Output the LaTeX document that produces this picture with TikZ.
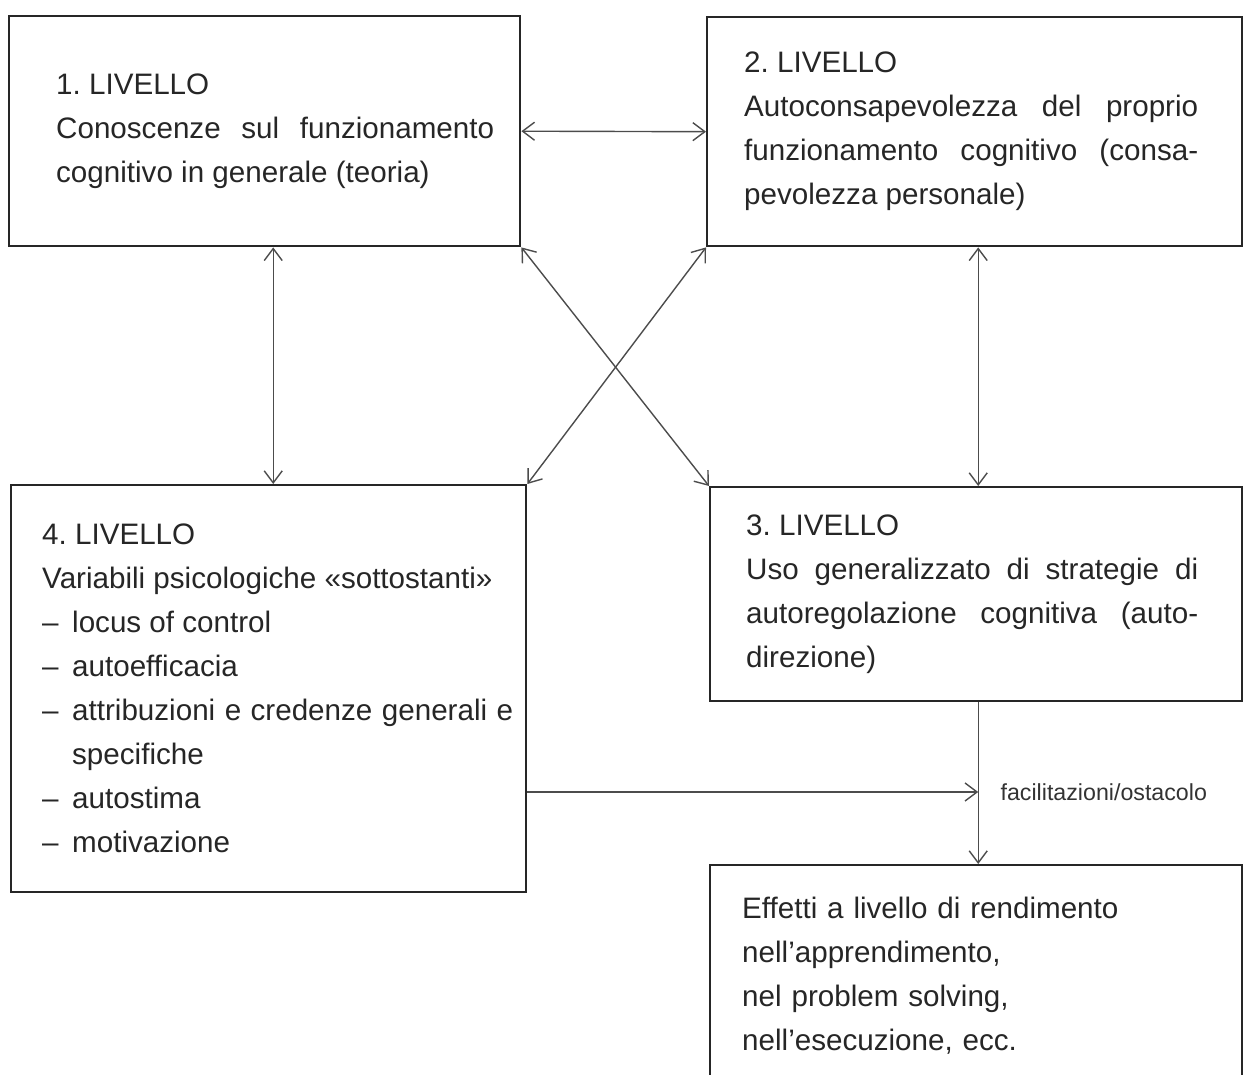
\documentclass[tikz,border=0pt]{standalone}
\usepackage{fontspec}
\setmainfont{Liberation Sans}
\usetikzlibrary{arrows.meta,positioning}
\frenchspacing
\newcommand{\voce}[1]{\par\hangindent=15pt\hangafter=1\noindent\makebox[15pt][l]{–}#1}
\tikzset{
  box/.style={draw=black!85, line width=1.2pt, anchor=north west, align=justify,
    inner sep=0pt, text=black!85, font=\fontsize{14.8}{22}\selectfont},
  con/.style={draw=black!70, line width=0.7pt},
  lbl/.style={inner sep=0pt, text=black!80, font=\fontsize{11.6}{13}\selectfont},
  >={Straight Barb[length=6pt,width=9pt]}
}
\begin{document}
\begin{tikzpicture}[x=0.5pt,y=-0.5pt]
  \clip (0,0) rectangle (1243,1075);
  % boxes
  \node[box, minimum width=255.5pt, minimum height=115pt, text width=229.5pt] (box1) at (8,15)
    {\leftskip=10.5pt 1. LIVELLO\par
     Conoscenze sul funzionamento\linebreak cognitivo in generale (teoria)\par};
  \node[box, minimum width=267.5pt, minimum height=114.5pt, text width=230.5pt] (box2) at (706,16)
    {\rightskip=3.5pt 2. LIVELLO\par
     Autoconsapevolezza del proprio\linebreak funzionamento cognitivo (consa-\linebreak pevolezza personale)\par};
  \node[box, minimum width=266pt, minimum height=107pt, text width=230pt] (box3) at (709,486)
    {\rightskip=4pt 3. LIVELLO\par
     Uso generalizzato di strategie di\linebreak autoregolazione cognitiva (auto-\linebreak direzione)\par};
  \node[box, minimum width=257.5pt, minimum height=203.5pt, text width=244.5pt] (box4) at (10,484)
    {\leftskip=9pt 4. LIVELLO\par
     Variabili psicologiche «sottostanti»
     \voce{locus of control}
     \voce{autoefficacia}
     \voce{attribuzioni e credenze generali e\linebreak specifiche}
     \voce{autostima}
     \voce{motivazione}\par};
  \node[box, align=left, minimum width=266pt, minimum height=110pt, text width=234pt] (box5) at (709,864)
    {Effetti a livello di rendimento\\
     nell'apprendimento,\\
     nel problem solving,\\
     nell'esecuzione, ecc.};
  % connections
  \draw[con,<->] (box1.east) -- (box2.west);
  \draw[con,<->] ([xshift=4.25pt]box1.south) -- ([xshift=4.25pt]box1.south |- box4.north);
  \draw[con,<->] ([xshift=1pt]box3.north |- box2.south) -- ([xshift=1pt]box3.north);
  \draw[con,<->] (box1.south east) -- (box3.north west);
  \draw[con,<->] (box2.south west) -- (box4.north east);
  \draw[con,->] ([xshift=1pt]box3.south) -- ([xshift=1pt]box5.north);
  \coordinate (jn) at ([xshift=1pt]box3.south |- 0,792);
  \draw[con,->] (box4.east |- jn) -- (jn);
  \node[lbl, right=11pt of jn] (fac) {facilitazioni/ostacolo};
\end{tikzpicture}
\end{document}
